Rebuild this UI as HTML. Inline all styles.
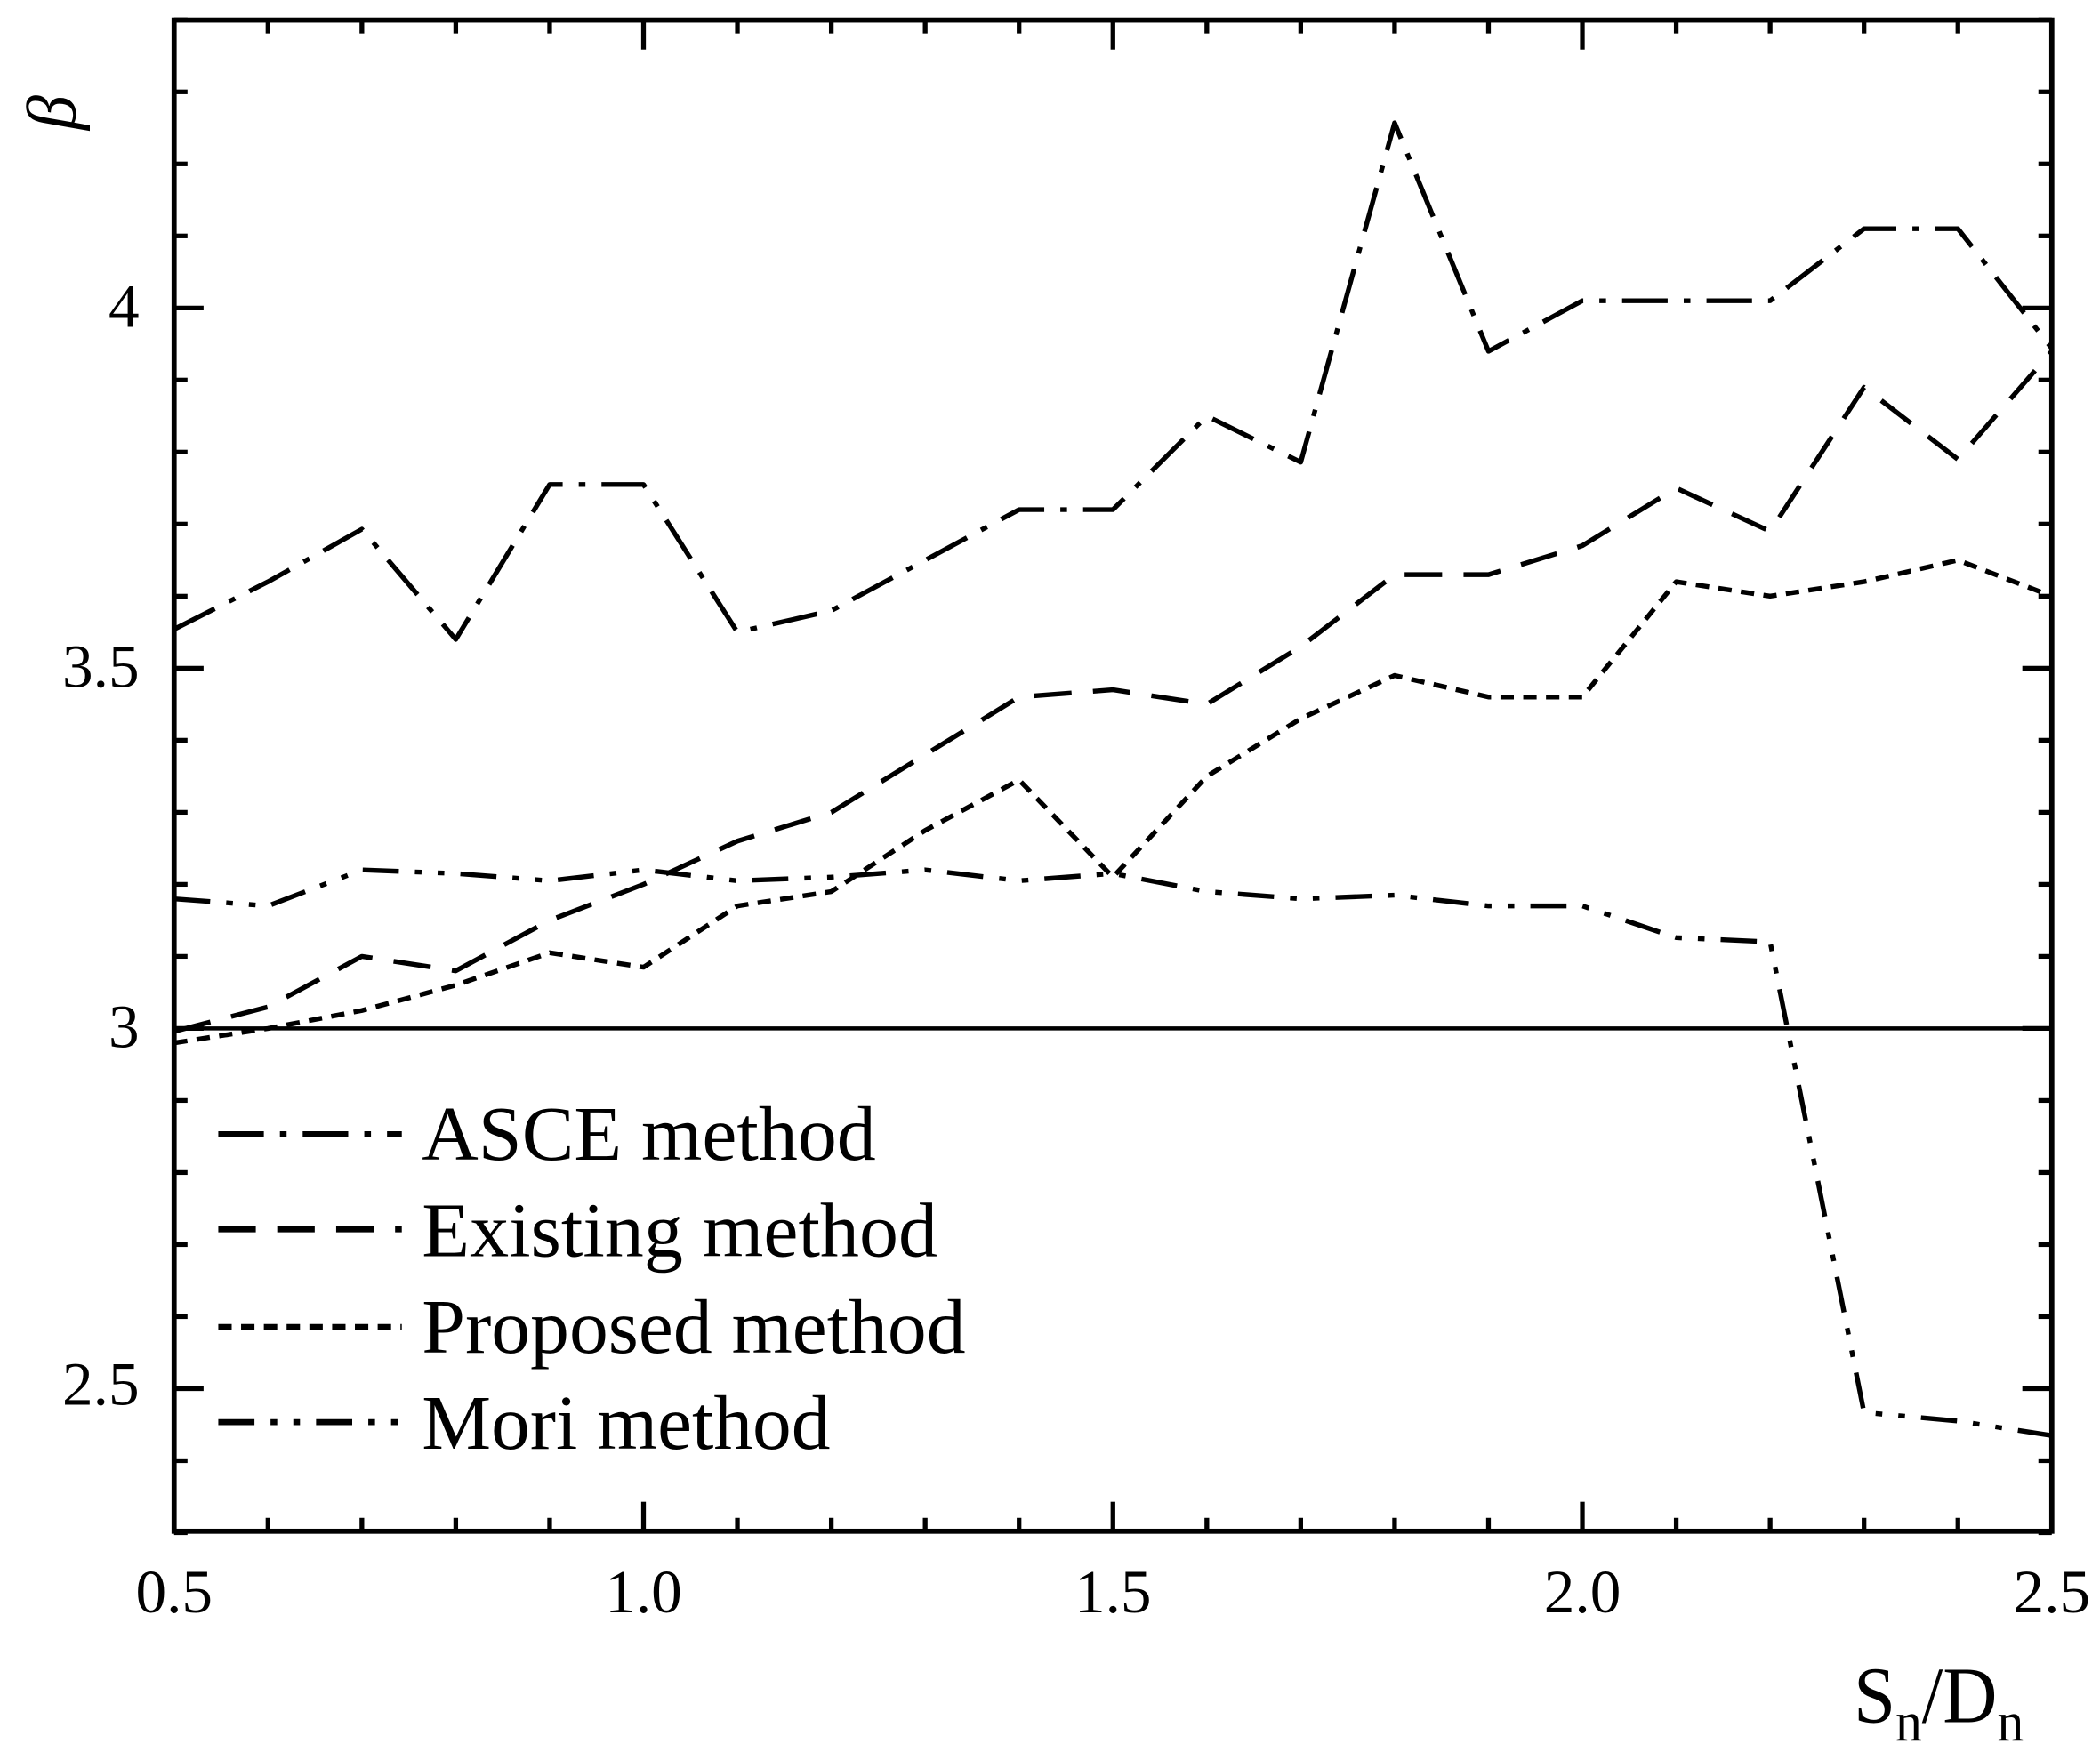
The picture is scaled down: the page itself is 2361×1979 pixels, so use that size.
<!DOCTYPE html>
<html><head><meta charset="utf-8"><style>html,body{margin:0;padding:0;background:#fff}svg{display:block}</style></head>
<body>
<svg id="s" xmlns="http://www.w3.org/2000/svg" width="2361" height="1979" viewBox="0 0 1568 1314.3">
<rect width="1568" height="1314.3" fill="#fff"/>
<g id="ticks" stroke="#000" stroke-width="3.5" fill="none"></g>
<line x1="130" y1="768" x2="1532" y2="768" stroke="#000" stroke-width="3"/>
<g id="series" fill="none" stroke="#000" stroke-width="3.6" stroke-linejoin="round"></g>
<rect x="130" y="15" width="1402" height="1128.5" fill="none" stroke="#000" stroke-width="3.8"/>
<g font-family="Liberation Serif, serif" font-size="46" fill="#000">
<text x="104" y="244" text-anchor="end">4</text>
<text x="104" y="513" text-anchor="end">3.5</text>
<text x="104" y="782" text-anchor="end">3</text>
<text x="104" y="1049" text-anchor="end">2.5</text>
<text x="130" y="1204" text-anchor="middle">0.5</text>
<text x="480.5" y="1204" text-anchor="middle">1.0</text>
<text x="831" y="1204" text-anchor="middle">1.5</text>
<text x="1181.5" y="1204" text-anchor="middle">2.0</text>
<text x="1532" y="1204" text-anchor="middle">2.5</text>
</g>
<text transform="translate(56,84) rotate(-90)" font-family="Liberation Serif, serif" font-style="italic" font-size="52" text-anchor="middle">β</text>
<text x="1384" y="1286" font-family="Liberation Serif, serif" font-size="60" textLength="127" lengthAdjust="spacingAndGlyphs">S<tspan font-size="42" dy="14">n</tspan><tspan dy="-14">/D</tspan><tspan font-size="42" dy="14">n</tspan></text>
<g font-family="Liberation Serif, serif" font-size="58" fill="#000">
<text x="315" y="866" textLength="339" lengthAdjust="spacingAndGlyphs">ASCE method</text>
<text x="315" y="938" textLength="385" lengthAdjust="spacingAndGlyphs">Existing method</text>
<text x="315" y="1010" textLength="406" lengthAdjust="spacingAndGlyphs">Proposed method</text>
<text x="315" y="1082" textLength="305" lengthAdjust="spacingAndGlyphs">Mori method</text>
</g>
<g id="legend" fill="none" stroke="#000" stroke-width="4.5"></g>
</svg>
<script>
var NS="http://www.w3.org/2000/svg";
function X(v){return 130+(v-0.5)*701;}
function Y(v){return 230+(4-v)*538;}
function el(p,t,a){var e=document.createElementNS(NS,t);for(var k in a)e.setAttribute(k,a[k]);p.appendChild(e);return e;}
var T=document.getElementById("ticks");
for(var i=5;i<=25;i++){var x=X(i/10),maj=(i%5==0),L=maj?22:10;
 el(T,"line",{x1:x,y1:1143.5,x2:x,y2:1143.5-L});
 el(T,"line",{x1:x,y1:15,x2:x,y2:15+L});}
for(var i=23;i<=44;i++){var y=Y(i/10),maj=(i%5==0),L=maj?22:10;
 el(T,"line",{x1:130,y1:y,x2:130+L,y2:y});
 el(T,"line",{x1:1532,y1:y,x2:1532-L,y2:y});}
var xs=[];for(var i=5;i<=25;i++)xs.push(i/10);
var S=[
 {d:[3.554,3.62,3.693,3.54,3.755,3.755,3.55,3.58,3.65,3.72,3.72,3.85,3.786,4.257,3.94,4.01,4.01,4.01,4.11,4.11,3.944],da:"34 12 5 12"},
 {d:[2.996,3.03,3.10,3.08,3.15,3.20,3.26,3.30,3.38,3.46,3.47,3.45,3.53,3.63,3.63,3.67,3.75,3.69,3.89,3.79,3.94],da:"28 16"},
 {d:[2.98,3.0,3.025,3.06,3.105,3.085,3.17,3.19,3.275,3.345,3.21,3.35,3.43,3.49,3.46,3.46,3.62,3.60,3.62,3.65,3.60],da:"10 7"},
 {d:[3.18,3.17,3.22,3.215,3.205,3.22,3.205,3.21,3.22,3.205,3.215,3.19,3.18,3.185,3.17,3.17,3.126,3.12,2.467,2.455,2.435],da:"27 12 5 12 5 12"}
];
var G=document.getElementById("series"),LG=document.getElementById("legend");
var ly=[847,918,991,1062];
S.forEach(function(s,k){
 var p="";s.d.forEach(function(v,j){p+=(j?"L":"M")+X(xs[j]).toFixed(1)+" "+Y(v).toFixed(1);});
 el(G,"path",{d:p,"stroke-dasharray":s.da});
 el(LG,"line",{x1:163,y1:ly[k],x2:300,y2:ly[k],"stroke-dasharray":s.da});
});
</script>
</body></html>
